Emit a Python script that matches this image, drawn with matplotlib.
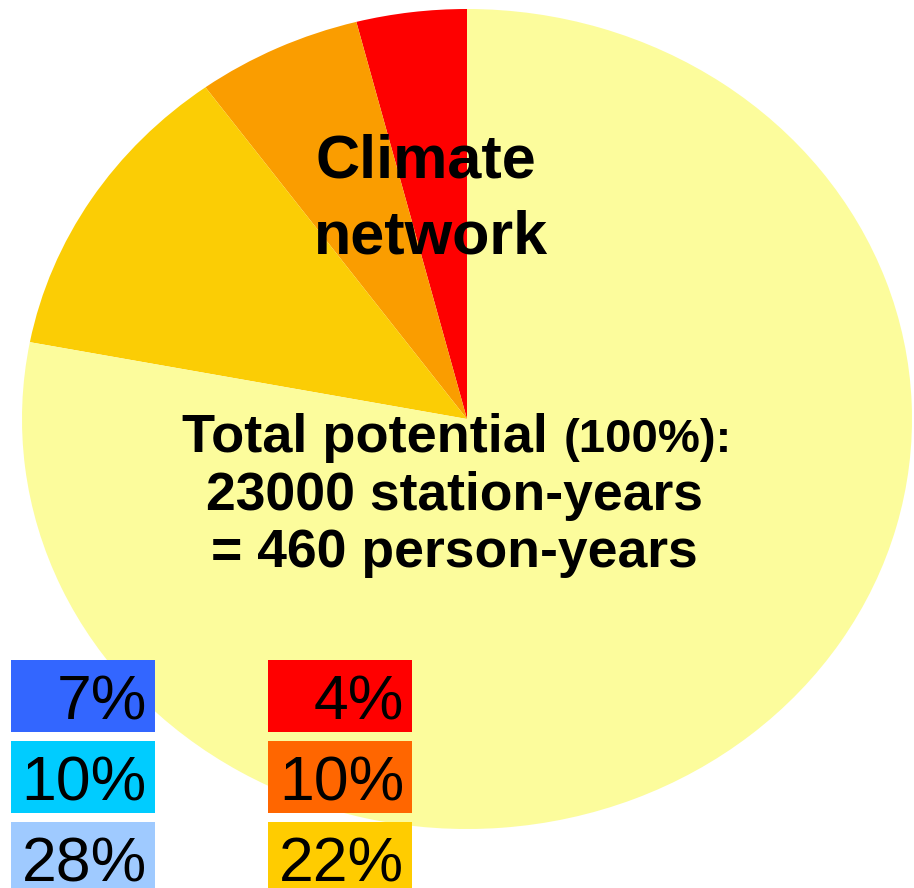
import numpy as np
import matplotlib.pyplot as plt
from matplotlib.patches import Rectangle

plt.rcParams['font.family'] = ['Liberation Sans', 'DejaVu Sans']

# pie shares (percent of total potential), counter-clockwise from the top
shares = [4, 6, 12, 78]
wedge_colors = ['#fe0000', '#fa9d00', '#fbcd05', '#fcfc9c']

# legend boxes: the warm column is cumulative over the pie wedges
cold_values = [7, 10, 28]
cold_colors = ['#3366ff', '#00ccff', '#9fcaff']
warm_values = list(np.cumsum(shares[:3]))
warm_colors = ['#ff0000', '#ff6600', '#ffcc00']

W, H = 914, 888
fig = plt.figure(figsize=(W / 100, H / 100), dpi=100)

# stretched pie: axes box spans the ellipse
ax = fig.add_axes([22 / W, (H - 829) / H, 890 / W, 820 / H])
ax.pie(shares, colors=wedge_colors, startangle=90, counterclock=True,
       radius=1, wedgeprops=dict(linewidth=0))
ax.set_aspect('auto')
ax.set_xlim(-1, 1)
ax.set_ylim(-1, 1)
ax.axis('off')

# overlay in pixel units for text and legend boxes
ov = fig.add_axes([0, 0, 1, 1])
ov.set_xlim(0, W)
ov.set_ylim(H, 0)
ov.axis('off')
ov.patch.set_alpha(0)

ov.text(426, 178, 'Climate', fontsize=44, fontweight='bold', ha='center', va='baseline')
ov.text(431, 253, 'network', fontsize=44, fontweight='bold', ha='center', va='baseline')

# first line mixes two sizes: measure, then centre the pair
t1 = ov.text(0, 452, 'Total potential ', fontsize=39, fontweight='bold', va='baseline')
t2 = ov.text(0, 452, '(100%):', fontsize=34, fontweight='bold', va='baseline')
r = fig.canvas.get_renderer()
w1 = t1.get_window_extent(r).width
w2 = t2.get_window_extent(r).width
x0 = 457 - (w1 + w2) / 2
t1.set_x(x0)
t2.set_x(x0 + w1)
ov.text(454, 510, '23000 station-years', fontsize=38.5, fontweight='bold', ha='center', va='baseline')
ov.text(454, 567, '= 460 person-years', fontsize=38.5, fontweight='bold', ha='center', va='baseline')

box_tops = [660, 741, 822]
box_h = 72
for col_x, vals, cols in [(11, cold_values, cold_colors), (268, warm_values, warm_colors)]:
    for top, v, c in zip(box_tops, vals, cols):
        ov.add_patch(Rectangle((col_x, top), 144, box_h, facecolor=c, edgecolor='none'))
        ov.text(col_x + 136, top + 59, f'{v}%', fontsize=45, ha='right', va='baseline')

fig.savefig('out.png', dpi=100)
